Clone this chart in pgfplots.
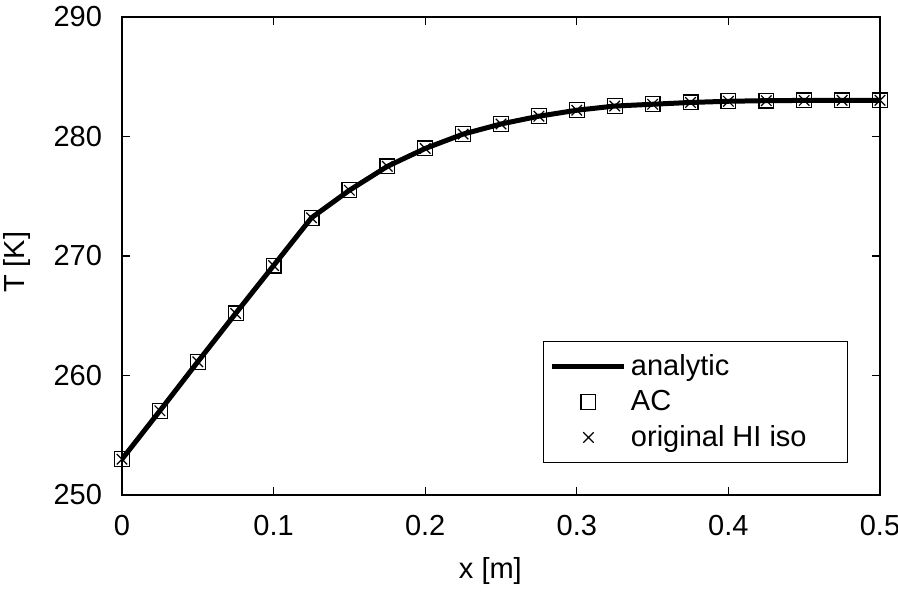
\documentclass[border=0pt]{standalone}
\usepackage{pgfplots}
\pgfplotsset{compat=1.18}
\usepackage{fontspec}
\setmainfont{Liberation Sans}
\pgfplotsset{
  linelegend/.style={legend image code/.code={\draw[##1] (0pt,0pt) -- (36pt,0pt);}},
  marklegend/.style={legend image code/.code={\draw[##1] plot coordinates {(18pt,0pt)}; \path (0pt,0pt) (36pt,0pt);}},
}
\pgfplotstableread{
x T
0     253.0
0.025 257.05
0.05  261.15
0.075 265.2
0.1   269.2
0.125 273.2
0.15  275.5
0.175 277.5
0.2   279.0
0.225 280.2
0.25  281.05
0.275 281.7
0.3   282.2
0.325 282.55
0.35  282.7
0.375 282.85
0.4   282.95
0.425 283.0
0.45  283.02
0.475 283.03
0.5   283.03
}\datatab
\begin{document}
\begin{tikzpicture}[font=\fontsize{14.5}{17}\selectfont]
\begin{axis}[
  scale only axis,
  width=379pt, height=239pt,
  xmin=0, xmax=0.5, ymin=250, ymax=290,
  xtick={0,0.1,0.2,0.3,0.4,0.5},
  ytick={250,260,270,280,290},
  xticklabels={0,0.1,0.2,0.3,0.4,0.5},
  /pgf/number format/assume math mode=true,
  tick align=inside,
  major tick length=4pt,
  axis line style={line width=0.8pt},
  every tick/.style={black, line width=0.6pt},
  tick label style={font=\fontsize{14.5}{17}\selectfont},
  xticklabel style={yshift=-6.5pt},
  yticklabel style={xshift=-6.5pt},
  xlabel={x [m]},
  ylabel={T [K]},
  every axis x label/.style={at={(rel axis cs:0.486,0)}, yshift=-38pt, anchor=center, font=\fontsize{14.5}{17}\selectfont},
  every axis y label/.style={at={(rel axis cs:0,0.487)}, xshift=-52.5pt, anchor=center, rotate=90, font=\fontsize{14.5}{17}\selectfont},
  legend style={at={(rel axis cs:0.958,0.067)}, anchor=south east,
    draw=black, line width=0.5pt, font=\fontsize{14.5}{17}\selectfont,
    row sep=2pt, inner xsep=3pt, inner ysep=4.5pt,
    nodes={inner xsep=2pt}},
  legend cell align=left,
]
\addplot[black, line width=2.5pt, no markers, linelegend] table[x=x,y=T] {\datatab};
\addlegendentry{analytic}
\addplot[black, only marks, mark=square, mark size=3.7pt, mark options={line width=0.6pt}, marklegend] table[x=x,y=T] {\datatab};
\addlegendentry{AC}
\addplot[black, only marks, mark=x, mark size=3.7pt, mark options={line width=0.6pt}, marklegend] table[x=x,y=T] {\datatab};
\addlegendentry{original HI iso\rule{15.5pt}{0pt}}
\end{axis}
\pgfresetboundingbox
\useasboundingbox (-61pt,-48pt) rectangle (388pt,247.5pt);
\end{tikzpicture}
\end{document}
